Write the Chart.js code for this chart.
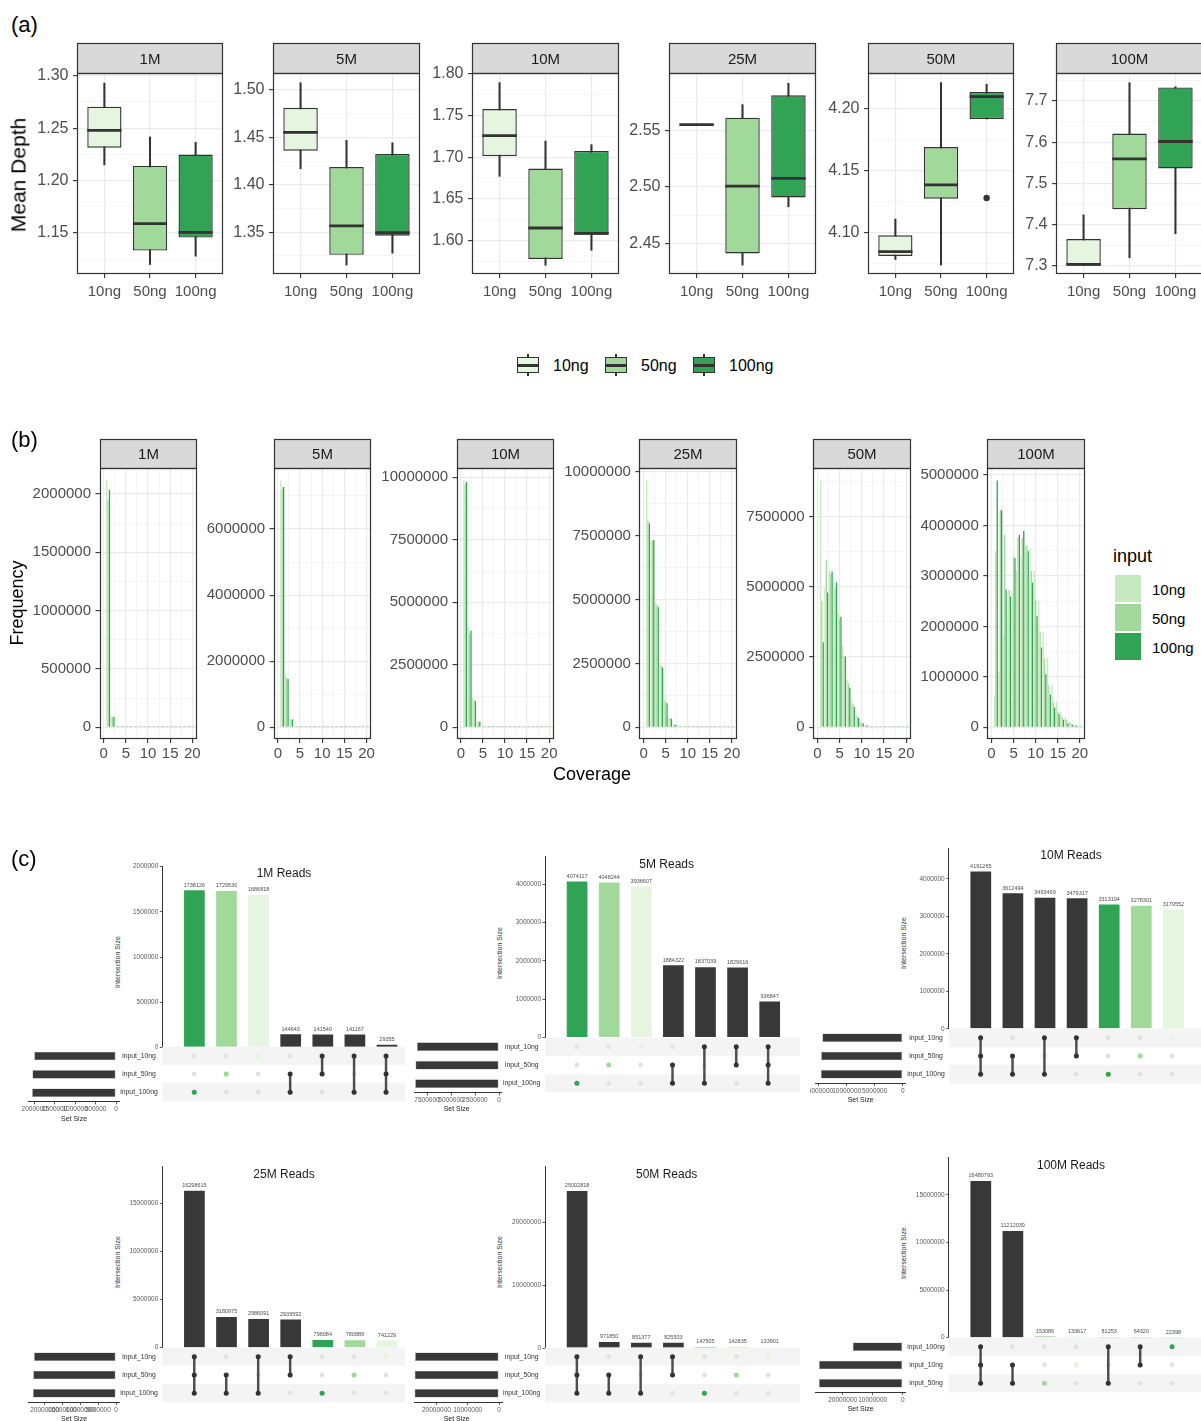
<!DOCTYPE html>
<html>
<head>
<meta charset="utf-8">
<title>Mean depth, coverage and overlap by DNA input</title>
<script src="https://cdn.jsdelivr.net/npm/chart.js@4.4.1/dist/chart.umd.min.js"></script>
<style>
html,body{margin:0;padding:0;background:#fff;}
body{position:relative;width:1201px;height:1421px;overflow:hidden;font-family:"Liberation Sans",Arial,Helvetica,sans-serif;}
.t{position:absolute;white-space:nowrap;line-height:1;}
.k{position:absolute;box-sizing:border-box;}
</style>
</head>
<body>
<script>
// ---------------- data ----------------
const inputs = ['10ng', '50ng', '100ng'];
const readDepths = ['1M', '5M', '10M', '25M', '50M', '100M'];

// (a) mean depth: [lower whisker, Q1, median, Q3, upper whisker] for 10ng, 50ng, 100ng
const depth1M   = [[1.215, 1.2314, 1.248, 1.2705, 1.293], [1.120, 1.1333, 1.159, 1.214, 1.2416], [1.128, 1.1457, 1.1506, 1.2248, 1.2366]];
const depth5M   = [[1.417, 1.436, 1.4554, 1.4813, 1.5077], [1.3155, 1.3262, 1.3567, 1.4188, 1.447], [1.328, 1.3464, 1.3495, 1.4325, 1.4444]];
const depth10M  = [[1.677, 1.7012, 1.726, 1.7578, 1.7896], [1.570, 1.5776, 1.6148, 1.6863, 1.7193], [1.588, 1.6068, 1.6084, 1.7074, 1.715]];
const depth25M  = [[2.555, 2.555, 2.555, 2.555, 2.555], [2.4307, 2.441, 2.5006, 2.5612, 2.5727], [2.4823, 2.4906, 2.5074, 2.581, 2.5916]];
const depth50M  = [[4.078, 4.0808, 4.0843, 4.0976, 4.1108], [4.0735, 4.1273, 4.1384, 4.1692, 4.2214], [4.1919, 4.1919, 4.21, 4.2138, 4.22]];
const depth100M = [[7.300, 7.300, 7.3034, 7.3646, 7.4235], [7.3194, 7.4374, 7.5597, 7.6211, 7.7444], [7.3777, 7.5362, 7.6017, 7.733, 7.7345]];
const outlierFacet = ['50M'];
const outlierInput = ['100ng'];
const outlierDepth = [4.1278];

const depthTicks1M   = [1.15, 1.20, 1.25, 1.30];
const depthTicks5M   = [1.35, 1.40, 1.45, 1.50];
const depthTicks10M  = [1.60, 1.65, 1.70, 1.75, 1.80];
const depthTicks25M  = [2.45, 2.50, 2.55];
const depthTicks50M  = [4.10, 4.15, 4.20];
const depthTicks100M = [7.3, 7.4, 7.5, 7.6, 7.7];
const depthLimits = [[1.111, 1.3026], [1.306, 1.518], [1.5595, 1.8012], [2.4228, 2.6007], [4.0662, 4.2292], [7.2799, 7.768]];

// (b) coverage histograms (frequency of positions at each coverage)
const coverage = [1, 2, 3, 4, 5, 6, 7, 8, 9, 10, 11, 12, 13, 14, 15, 16, 17, 18, 19, 20];
const coverageTicks = [0, 5, 10, 15, 20];
const freq1M_10ng   = [2117000, 96000, 9000, 1500, 400, 200, 120, 80, 60, 50, 40, 35, 30, 25, 22, 20, 18, 16, 15, 14];
const freq1M_50ng   = [1945000, 91000, 8500, 1400, 380, 190, 110, 75, 55, 45, 38, 32, 28, 24, 21, 19, 17, 15, 14, 13];
const freq1M_100ng  = [2035000, 88000, 8200, 1300, 360, 180, 105, 70, 52, 44, 36, 30, 27, 23, 20, 18, 16, 15, 13, 12];
const freq5M_10ng   = [7470000, 1580000, 250000, 35000, 5000, 1200, 500, 300, 200, 150, 120, 100, 90, 80, 70, 60, 55, 50, 45, 40];
const freq5M_50ng   = [7210000, 1500000, 225000, 31000, 4500, 1100, 450, 280, 190, 140, 110, 95, 85, 75, 65, 58, 52, 48, 43, 38];
const freq5M_100ng  = [7270000, 1460000, 240000, 33000, 4800, 1150, 470, 290, 195, 145, 115, 98, 88, 78, 68, 60, 54, 49, 44, 39];
const freq10M_10ng  = [9880000, 4020000, 1180000, 235000, 36000, 6000, 1500, 600, 350, 250, 200, 170, 150, 130, 115, 100, 90, 80, 72, 65];
const freq10M_50ng  = [9720000, 3750000, 1080000, 210000, 32000, 5500, 1400, 560, 330, 240, 190, 160, 140, 125, 110, 95, 85, 76, 68, 62];
const freq10M_100ng = [9810000, 3860000, 1050000, 220000, 34000, 5700, 1450, 580, 340, 245, 195, 165, 145, 128, 112, 98, 88, 78, 70, 63];
const freq25M_10ng  = [9660000, 7330000, 4910000, 2500000, 1070000, 380000, 120000, 35000, 10000, 3000, 1200, 600, 400, 300, 250, 200, 180, 160, 140, 120];
const freq25M_50ng  = [8080000, 7300000, 4800000, 2420000, 1000000, 350000, 110000, 32000, 9000, 2800, 1100, 560, 380, 290, 240, 190, 170, 150, 130, 115];
const freq25M_100ng = [7980000, 7330000, 4710000, 2340000, 940000, 330000, 100000, 30000, 8500, 2600, 1050, 540, 370, 280, 230, 185, 165, 145, 125, 110];
const freq50M_10ng  = [8790000, 4950000, 5570000, 5190000, 4100000, 2900000, 1700000, 950000, 460000, 200000, 85000, 35000, 14000, 5500, 2300, 1100, 650, 420, 300, 230];
const freq50M_50ng  = [4500000, 5960000, 5450000, 4950000, 3850000, 2520000, 1570000, 820000, 380000, 165000, 70000, 29000, 12000, 4800, 2000, 1000, 600, 400, 280, 220];
const freq50M_100ng = [3030000, 4800000, 5550000, 5160000, 3940000, 2520000, 1410000, 720000, 330000, 140000, 60000, 25000, 10000, 4200, 1800, 900, 560, 380, 270, 210];
const freq100M_10ng  = [640000, 1100000, 1860000, 2200000, 2700000, 3100000, 3400000, 3600000, 3550000, 3100000, 2500000, 1900000, 1370000, 840000, 500000, 310000, 210000, 110000, 60000, 30000];
const freq100M_50ng  = [3490000, 4300000, 3810000, 2720000, 3390000, 3760000, 3750000, 3610000, 3100000, 2520000, 1900000, 1370000, 840000, 500000, 310000, 210000, 150000, 80000, 50000, 30000];
const freq100M_100ng = [4890000, 4300000, 2730000, 2590000, 3350000, 3810000, 3890000, 3490000, 2870000, 2200000, 1580000, 1050000, 650000, 390000, 260000, 150000, 80000, 50000, 30000, 20000];

const freqTicks1M   = [0, 500000, 1000000, 1500000, 2000000];
const freqTicks5M   = [0, 2000000, 4000000, 6000000];
const freqTicks10M  = [0, 2500000, 5000000, 7500000, 10000000];
const freqTicks25M  = [0, 2500000, 5000000, 7500000, 10000000];
const freqTicks50M  = [0, 2500000, 5000000, 7500000];
const freqTicks100M = [0, 1000000, 2000000, 3000000, 4000000, 5000000];
const freqLimits = [[-100300, 2223000], [-354000, 7846000], [-468000, 10372000], [-458000, 10145000], [-417000, 9234000], [-232000, 5139000]];

// (c) intersections of covered positions between inputs
const upsetTitles = ['1M Reads', '5M Reads', '10M Reads', '25M Reads', '50M Reads', '100M Reads'];
const setRows1M   = ['input_10ng', 'input_50ng', 'input_100ng'];
const setRows100M = ['input_100ng', 'input_10ng', 'input_50ng'];
const members1M   = [['100ng'], ['50ng'], ['10ng'], ['50ng', '100ng'], ['10ng', '50ng'], ['10ng', '100ng'], ['10ng', '50ng', '100ng']];
const members5M   = [['100ng'], ['50ng'], ['10ng'], ['50ng', '100ng'], ['10ng', '100ng'], ['10ng', '50ng'], ['10ng', '50ng', '100ng']];
const membersDeep = [['10ng', '50ng', '100ng'], ['50ng', '100ng'], ['10ng', '100ng'], ['10ng', '50ng'], ['100ng'], ['50ng'], ['10ng']];
const members100M = [['10ng', '50ng', '100ng'], ['10ng', '50ng'], ['50ng'], ['10ng'], ['50ng', '100ng'], ['10ng', '100ng'], ['100ng']];
const overlap1M   = [1738126, 1729530, 1686818, 144643, 141540, 141167, 29355];
const overlap5M   = [4074117, 4048244, 3936607, 1884322, 1837039, 1829616, 936847];
const overlap10M  = [4191265, 3612494, 3493469, 3479317, 3313194, 3278301, 3179552];
const overlap25M  = [16298615, 3180975, 2986091, 2939592, 796084, 780889, 741229];
const overlap50M  = [25002818, 971850, 851377, 825503, 147505, 142835, 133901];
const overlap100M = [16480793, 11212039, 153086, 133617, 81253, 64320, 22398];
const overlapTicks1M   = [0, 500000, 1000000, 1500000, 2000000];
const overlapTicks5M   = [0, 1000000, 2000000, 3000000, 4000000];
const overlapTicks10M  = [0, 1000000, 2000000, 3000000, 4000000];
const overlapTicks25M  = [0, 5000000, 10000000, 15000000];
const overlapTicks50M  = [0, 10000000, 20000000];
const overlapTicks100M = [0, 5000000, 10000000, 15000000];
const setSizeTicks1M   = [0, 500000, 1000000, 1500000, 2000000];
const setSizeTicks5M   = [0, 2500000, 5000000, 7500000];
const setSizeTicks10M  = [0, 5000000, 10000000, 15000000];
const setSizeTicks25M  = [0, 5000000, 10000000, 15000000, 20000000];
const setSizeTicks50M  = [0, 10000000, 20000000];
const setSizeTicks100M = [0, 10000000, 20000000];

// ---------------- styling ----------------
const FONT = '"Liberation Sans", Arial, Helvetica, sans-serif';
Chart.defaults.font.family = FONT;
Chart.defaults.color = '#4D4D4D';
Chart.defaults.animation = false;
Chart.defaults.responsive = false;
Chart.defaults.maintainAspectRatio = false;
Chart.defaults.devicePixelRatio = 1;
Chart.defaults.events = [];
Chart.defaults.plugins.legend.display = false;
Chart.defaults.plugins.tooltip.enabled = false;

const depthColors = ['#E5F5E0', '#A1D99B', '#31A354'];
const histColors = ['#C7E9C0', '#A1D99B', '#31A354'];
const setColors = {'10ng': '#E5F5E0', '50ng': '#A1D99B', '100ng': '#31A354'};
const DARK = '#383838';

// ---------------- helpers ----------------
function addText(str, x, y, size, o = {}) {
  const d = document.createElement('div');
  d.className = 't';
  d.textContent = str;
  d.style.left = x + 'px';
  d.style.top = y + 'px';
  d.style.fontSize = size + 'px';
  d.style.color = o.color || '#000';
  d.style.transform = 'translate(' + (o.align === 'left' ? '0' : '-50%') + ',-50%)' + (o.rotate ? ' rotate(-90deg)' : '');
  document.body.appendChild(d);
  return d;
}

function addBlock(x, y, w, h, css) {
  const d = document.createElement('div');
  d.className = 'k';
  d.style.cssText += `left:${x}px;top:${y}px;width:${w}px;height:${h}px;` + css;
  document.body.appendChild(d);
  return d;
}

// canvas whose chart area lands on `area` (page pixels), with margins for axes
function frame(area, m, clip) {
  const cx = Math.floor(area.l - m.l), cy = Math.floor(area.t - m.t);
  const cw = Math.ceil(area.r + m.r) - cx, ch = Math.ceil(area.b + m.b) - cy;
  const cl = clip && clip.l != null ? Math.max(cx, clip.l) : cx;
  const cr = clip && clip.r != null ? Math.min(cx + cw, clip.r) : cx + cw;
  const wrap = document.createElement('div');
  wrap.style.cssText = `position:absolute;left:${cl}px;top:${cy}px;width:${cr - cl}px;height:${ch}px;overflow:hidden;`;
  const cv = document.createElement('canvas');
  cv.width = cw; cv.height = ch;
  cv.style.cssText = `position:absolute;left:${cx - cl}px;top:0;width:${cw}px;height:${ch}px;`;
  wrap.appendChild(cv);
  document.body.appendChild(wrap);
  return {cv, ml: area.l - cx, mt: area.t - cy, mr: cx + cw - area.r, mb: cy + ch - area.b};
}

// major ticks plus the half-way minor ticks inside [lo, hi]
function withMinor(major, lo, hi) {
  const step = major[1] - major[0];
  const ext = [major[0] - step, ...major, major[major.length - 1] + step];
  const out = major.map(v => ({value: v}));
  for (let i = 0; i < ext.length - 1; i++) out.push({value: (ext[i] + ext[i + 1]) / 2, minor: true});
  return out.filter(t => t.value >= lo && t.value <= hi).sort((a, b) => a.value - b.value);
}
const isMinor = c => !!(c.tick && c.tick.minor);
const gridColor = c => isMinor(c) ? '#F1F1F1' : '#EBEBEB';
const gridWidth = c => isMinor(c) ? 0.7 : 1.2;
const tickColor = c => isMinor(c) ? 'rgba(0,0,0,0)' : '#333333';

// facet panel border and grey strip with the facet label
function facetFrame(label, stripH, fontSize) {
  return {
    id: 'facetFrame',
    afterDraw(chart) {
      const {ctx, chartArea: a} = chart;
      const L = Math.round(a.left) + 0.5, R = Math.round(a.right) - 0.5;
      const T = Math.round(a.top) + 0.5, B = Math.round(a.bottom) - 0.5;
      const sT = Math.round(a.top - stripH) + 0.5;
      ctx.save();
      ctx.fillStyle = '#D9D9D9';
      ctx.fillRect(L, sT, R - L, T - sT);
      ctx.lineWidth = 1.2;
      ctx.strokeStyle = '#333333';
      ctx.strokeRect(L, sT, R - L, T - sT);
      ctx.strokeRect(L, T, R - L, B - T);
      ctx.fillStyle = '#1A1A1A';
      ctx.font = fontSize + 'px ' + FONT;
      ctx.textAlign = 'center';
      ctx.textBaseline = 'middle';
      ctx.fillText(label, (L + R) / 2, (sT + T) / 2 + 1);
      ctx.restore();
    }
  };
}

// median bar across each box
function medianLines(medians, dsIndex) {
  return {
    id: 'medianLines',
    afterDatasetsDraw(chart) {
      const meta = chart.getDatasetMeta(dsIndex);
      const y = chart.scales.y, ctx = chart.ctx;
      ctx.save();
      ctx.strokeStyle = '#333333';
      ctx.lineWidth = 2.8;
      meta.data.forEach((el, i) => {
        const py = y.getPixelForValue(medians[i]);
        ctx.beginPath();
        ctx.moveTo(el.x - el.width / 2, py);
        ctx.lineTo(el.x + el.width / 2, py);
        ctx.stroke();
      });
      ctx.restore();
    }
  };
}

// ---------------- (a) mean depth box plots ----------------
const depthStats = [depth1M, depth5M, depth10M, depth25M, depth50M, depth100M];
const depthTicks = [depthTicks1M, depthTicks5M, depthTicks10M, depthTicks25M, depthTicks50M, depthTicks100M];
const aLeft = [77, 273, 472, 669, 868, 1056];
const aRight = [223, 420, 619, 816, 1014, 1203];

depthStats.forEach((stats, fi) => {
  const f = frame({l: aLeft[fi], r: aRight[fi], t: 73, b: 274}, {l: 62, t: 33, r: 12, b: 30});
  const [lo, hi] = depthLimits[fi];
  const yt = withMinor(depthTicks[fi], lo, hi);
  const dec = readDepths[fi] === '100M' ? 1 : 2;
  const datasets = [
    {data: stats.map((s, k) => ({x: k + 1, y: [s[0], s[4]]})), backgroundColor: '#333333',
     grouped: false, maxBarThickness: 1.4, barPercentage: 1, categoryPercentage: 1, order: 3},
    {data: stats.map((s, k) => ({x: k + 1, y: [s[1], s[3]]})), backgroundColor: depthColors,
     borderColor: '#333333', borderWidth: 1.4, borderSkipped: false, grouped: false,
     barPercentage: 0.75, categoryPercentage: 1, order: 2}
  ];
  outlierFacet.forEach((fc, j) => {
    if (fc === readDepths[fi]) {
      datasets.push({type: 'scatter', data: [{x: inputs.indexOf(outlierInput[j]) + 1, y: outlierDepth[j]}],
        pointRadius: 3.2, pointBackgroundColor: '#333333', pointBorderWidth: 0, order: 1});
    }
  });
  new Chart(f.cv, {
    type: 'bar',
    data: {datasets},
    options: {
      layout: {padding: {left: 0, right: f.mr, top: f.mt, bottom: 0}},
      scales: {
        x: {type: 'linear', min: 0.4, max: 3.6, offset: false,
            afterBuildTicks: s => { s.ticks = [1, 2, 3].map(v => ({value: v})); },
            afterFit: s => { s.height = f.mb; },
            ticks: {callback: v => inputs[v - 1], font: {size: 15}, color: '#4D4D4D', padding: 4.5, maxRotation: 0, autoSkip: false},
            grid: {offset: false, color: '#EBEBEB', lineWidth: 1.2, tickLength: 4, tickColor: '#333333', tickWidth: 1.1},
            border: {display: false}},
        y: {type: 'linear', min: lo, max: hi,
            afterBuildTicks: s => { s.ticks = yt.map(t => ({...t})); },
            afterFit: s => { s.width = f.ml; },
            ticks: {callback: (v, i, t) => t[i].minor ? '' : v.toFixed(dec), font: {size: 16}, color: '#4D4D4D', padding: 4.5, autoSkip: false},
            grid: {color: gridColor, lineWidth: gridWidth, tickLength: 4, tickColor: tickColor, tickWidth: 1.1},
            border: {display: false}}
      }
    },
    plugins: [medianLines(stats.map(s => s[2]), 1), facetFrame(readDepths[fi], 30, 15)]
  });
});

addText('(a)', 11, 25, 22, {align: 'left'});
addText('Mean Depth', 18, 175, 21, {rotate: true});
// legend of panel (a): box-plot keys
[516, 604, 692].forEach((x, k) => {
  addBlock(x + 11.4, 354, 1.3, 22, 'background:#333;');
  addBlock(x + 1, 357, 22, 16, `background:${depthColors[k]};border:1.3px solid #333;`);
  addBlock(x + 1, 364, 22, 2.6, 'background:#333;');
  addText(inputs[k], x + 37, 365.5, 16, {align: 'left', color: '#000'});
});

// ---------------- (b) coverage histograms ----------------
const freqSeries = [
  [freq1M_10ng, freq1M_50ng, freq1M_100ng],
  [freq5M_10ng, freq5M_50ng, freq5M_100ng],
  [freq10M_10ng, freq10M_50ng, freq10M_100ng],
  [freq25M_10ng, freq25M_50ng, freq25M_100ng],
  [freq50M_10ng, freq50M_50ng, freq50M_100ng],
  [freq100M_10ng, freq100M_50ng, freq100M_100ng]
];
const freqTicks = [freqTicks1M, freqTicks5M, freqTicks10M, freqTicks25M, freqTicks50M, freqTicks100M];
const bLeft = [99.5, 273.6, 456.6, 639.4, 813.2, 987.3];
const bRight = [197, 371.2, 553.8, 736.6, 910.8, 1084.5];
const covMin = -0.95, covMax = 21.05;
const xt = withMinor(coverageTicks, covMin, covMax);

freqSeries.forEach((series, fi) => {
  const f = frame({l: bLeft[fi], r: bRight[fi], t: 468, b: 739}, {l: 86, t: 32, r: 12, b: 26});
  const [lo, hi] = freqLimits[fi];
  const yt = withMinor(freqTicks[fi], lo, hi);
  new Chart(f.cv, {
    type: 'bar',
    data: {datasets: inputs.map((name, k) => ({
      label: name,
      data: coverage.map((c, j) => ({x: c, y: series[k][j]})),
      backgroundColor: histColors[k], borderWidth: 0,
      categoryPercentage: 0.9, barPercentage: 1, minBarLength: 1.1
    }))},
    options: {
      layout: {padding: {left: 0, right: f.mr, top: f.mt, bottom: 0}},
      scales: {
        x: {type: 'linear', min: covMin, max: covMax, offset: false,
            afterBuildTicks: s => { s.ticks = xt.map(t => ({...t})); },
            afterFit: s => { s.height = f.mb; },
            ticks: {callback: (v, i, t) => t[i].minor ? '' : String(v), font: {size: 15}, color: '#4D4D4D', padding: 2, maxRotation: 0, autoSkip: false},
            grid: {offset: false, color: gridColor, lineWidth: gridWidth, tickLength: 4, tickColor: tickColor, tickWidth: 1.1},
            border: {display: false}},
        y: {type: 'linear', min: lo, max: hi,
            afterBuildTicks: s => { s.ticks = yt.map(t => ({...t})); },
            afterFit: s => { s.width = f.ml; },
            ticks: {callback: (v, i, t) => t[i].minor ? '' : String(v), font: {size: 15}, color: '#4D4D4D', padding: 4.5, autoSkip: false},
            grid: {color: gridColor, lineWidth: gridWidth, tickLength: 4, tickColor: tickColor, tickWidth: 1.1},
            border: {display: false}}
      }
    },
    plugins: [facetFrame(readDepths[fi], 29, 15)]
  });
});

addText('(b)', 11, 440, 22, {align: 'left'});
addText('Frequency', 17, 603, 18, {rotate: true});
addText('Coverage', 592, 774, 18);
addText('input', 1113, 556, 18, {align: 'left'});
[575, 604, 633].forEach((y, k) => {
  addBlock(1115, y, 26, 27, `background:${histColors[k]};`);
  addText(inputs[k], 1152, y + 13.5, 15, {align: 'left'});
});

// ---------------- (c) UpSet plots ----------------
const upsetRows = [setRows1M, setRows1M, setRows1M, setRows1M, setRows1M, setRows100M];
const upsetMembers = [members1M, members5M, membersDeep, membersDeep, membersDeep, members100M];
const upsetSizes = [overlap1M, overlap5M, overlap10M, overlap25M, overlap50M, overlap100M];
const upsetTicks = [overlapTicks1M, overlapTicks5M, overlapTicks10M, overlapTicks25M, overlapTicks50M, overlapTicks100M];
const upsetSetTicks = [setSizeTicks1M, setSizeTicks5M, setSizeTicks10M, setSizeTicks25M, setSizeTicks50M, setSizeTicks100M];
const upsetYMax = [2000000, 4720000, 4813000, 18800000, 28850000, 18960000];

const upsetLayout = [
  {axisX: 162.3, top: 866.7, zero: 1047.3, rowY: 1056, rowStep: 18.35, clipR: 405, ssL: 28, ssR: 119.3, ssZero: 116, ssPx: 4.0873e-5, ssClipL: null, nameX: 139, titleX: 284, titleY: 873.3, isX: 116.7, isY: 961.7, sslX: 74, sslY: 1118.3},
  {axisX: 545, top: 856.7, zero: 1037.5, rowY: 1046.7, rowStep: 18.5, clipR: null, ssL: 414, ssR: 501.7, ssZero: 499, ssPx: 9.6e-6, ssClipL: null, nameX: 521.7, titleX: 666.7, titleY: 864, isX: 499, isY: 953, sslX: 456.7, sslY: 1108.3},
  {axisX: 948.7, top: 848.3, zero: 1028.8, rowY: 1037.7, rowStep: 18.3, clipR: null, ssL: 815, ssR: 905, ssZero: 902.7, ssPx: 5.6e-6, ssClipL: 810, nameX: 926, titleX: 1071, titleY: 855, isX: 903.3, isY: 943.3, sslX: 860.7, sslY: 1099},
  {axisX: 162.3, top: 1166.7, zero: 1347.7, rowY: 1356.7, rowStep: 18.3, clipR: 405, ssL: 28, ssR: 119, ssZero: 116, ssPx: 3.568e-6, ssClipL: null, nameX: 139, titleX: 284, titleY: 1174, isX: 116.7, isY: 1262.3, sslX: 74, sslY: 1418.3},
  {axisX: 545, top: 1166.7, zero: 1348, rowY: 1356.7, rowStep: 18.3, clipR: null, ssL: 414, ssR: 502, ssZero: 499, ssPx: 3.13e-6, ssClipL: null, nameX: 521.7, titleX: 666.7, titleY: 1174, isX: 499, isY: 1262.3, sslX: 456.7, sslY: 1418.3},
  {axisX: 948.7, top: 1157.3, zero: 1337.7, rowY: 1346.7, rowStep: 18.3, clipR: null, ssL: 815, ssR: 905, ssZero: 902.7, ssPx: 3.0e-6, ssClipL: 810, nameX: 926, titleX: 1071, titleY: 1165, isX: 903.3, isY: 1253.3, sslX: 860.7, sslY: 1407.7}
];
const COL_STEP = 32.1;

const barValues = {
  id: 'barValues',
  afterDatasetsDraw(chart) {
    const ctx = chart.ctx, meta = chart.getDatasetMeta(0), ds = chart.data.datasets[0];
    ctx.save();
    ctx.font = '5.5px ' + FONT;
    ctx.fillStyle = '#4D4D4D';
    ctx.textAlign = 'center';
    ctx.textBaseline = 'bottom';
    meta.data.forEach((el, i) => ctx.fillText(String(ds.data[i].y), el.x, el.y - 2.5));
    ctx.restore();
  }
};

const rowShading = {
  id: 'rowShading',
  beforeDatasetsDraw(chart) {
    const {ctx, chartArea: a, scales: {y}} = chart;
    ctx.save();
    ctx.fillStyle = '#F4F4F4';
    [0, 2].forEach(r => {
      const y1 = y.getPixelForValue(r - 0.5), y2 = y.getPixelForValue(r + 0.5);
      ctx.fillRect(a.left, Math.min(y1, y2), a.right - a.left, Math.abs(y2 - y1));
    });
    ctx.restore();
  }
};

upsetSizes.forEach((sizes, k) => {
  const Lk = upsetLayout[k];
  const rows = upsetRows[k], members = upsetMembers[k];
  const nCols = sizes.length;
  const right = Lk.axisX + (nCols + 1) * COL_STEP;
  const clip = {l: null, r: Lk.clipR};
  const colTicks = s => { s.ticks = Array.from({length: nCols + 2}, (_, i) => ({value: i})); };

  // intersection size bars
  const fb = frame({l: Lk.axisX, r: right, t: Lk.top, b: Lk.zero}, {l: 34, t: 14, r: 2, b: 6}, clip);
  const yTicks = upsetTicks[k];
  new Chart(fb.cv, {
    type: 'bar',
    data: {datasets: [{
      data: sizes.map((v, i) => ({x: i + 1, y: v})),
      backgroundColor: members.map(m => m.length === 1 ? setColors[m[0]] : DARK),
      borderWidth: 0, barPercentage: 0.645, categoryPercentage: 1
    }]},
    options: {
      layout: {padding: {left: 0, right: fb.mr, top: fb.mt, bottom: fb.mb}},
      scales: {
        x: {type: 'linear', min: 0, max: nCols + 1, offset: false, display: false, afterBuildTicks: colTicks},
        y: {type: 'linear', min: 0, max: upsetYMax[k],
            afterBuildTicks: s => { s.ticks = yTicks.map(v => ({value: v})); },
            afterFit: s => { s.width = fb.ml; },
            ticks: {callback: v => String(v), font: {size: 6.5}, color: '#595959', padding: 1.5, autoSkip: false},
            grid: {drawOnChartArea: false, tickLength: 2.5, tickColor: '#333333', tickWidth: 0.8},
            border: {display: true, color: '#333333', width: 1}}
      }
    },
    plugins: [barValues]
  });

  // membership matrix
  const mTop = Lk.rowY - Lk.rowStep / 2, mBot = Lk.rowY + Lk.rowStep * 2.5;
  const fm = frame({l: Lk.axisX, r: right, t: mTop, b: mBot}, {l: 50, t: 8, r: 2, b: 8}, clip);
  const allDots = [], onDots = [], onColors = [], links = [];
  members.forEach((m, i) => {
    rows.forEach((_, r) => allDots.push({x: i + 1, y: r}));
    const idx = m.map(key => rows.indexOf('input_' + key));
    m.forEach((key, j) => {
      onDots.push({x: i + 1, y: idx[j]});
      onColors.push(m.length === 1 ? setColors[key] : '#333333');
    });
    if (m.length > 1) links.push({x: i + 1, y: [Math.min(...idx), Math.max(...idx)]});
  });
  const nameFont = 6.8;
  const namePad = Math.max(1, Lk.axisX - Lk.nameX - nameFont * 5.5 / 2);
  new Chart(fm.cv, {
    type: 'bar',
    data: {datasets: [
      {type: 'scatter', data: allDots, pointRadius: 2.4, pointBackgroundColor: '#E2E2E2', pointBorderWidth: 0, order: 3},
      {type: 'bar', data: links, backgroundColor: '#4D4D4D', barThickness: 1.8, maxBarThickness: 1.8, order: 2},
      {type: 'scatter', data: onDots, pointRadius: 2.5, pointBackgroundColor: onColors, pointBorderWidth: 0, order: 1}
    ]},
    options: {
      layout: {padding: {left: 0, right: fm.mr, top: fm.mt, bottom: fm.mb}},
      scales: {
        x: {type: 'linear', min: 0, max: nCols + 1, offset: false, display: false, afterBuildTicks: colTicks},
        y: {type: 'linear', min: -0.5, max: 2.5, reverse: true, offset: false,
            afterBuildTicks: s => { s.ticks = [0, 1, 2].map(v => ({value: v})); },
            afterFit: s => { s.width = fm.ml; },
            ticks: {callback: v => rows[v], font: {size: nameFont}, color: '#333333', crossAlign: 'center', padding: namePad, autoSkip: false},
            grid: {display: false, drawTicks: false},
            border: {display: false}}
      }
    },
    plugins: [rowShading]
  });

  // set sizes
  const totals = rows.map(r => {
    const key = r.replace('input_', '');
    return sizes.reduce((acc, v, i) => acc + (members[i].includes(key) ? v : 0), 0);
  });
  const fs = frame({l: Lk.ssL, r: Lk.ssR, t: mTop, b: mBot}, {l: 18, t: 2, r: 5, b: 12}, {l: Lk.ssClipL, r: null});
  const sTicks = upsetSetTicks[k];
  new Chart(fs.cv, {
    type: 'bar',
    data: {datasets: [{
      data: totals.map((v, r) => ({x: v, y: r})),
      backgroundColor: DARK, borderColor: '#A0A0A0', borderWidth: 0.6, borderSkipped: false,
      barPercentage: 0.47, categoryPercentage: 1
    }]},
    options: {
      indexAxis: 'y',
      layout: {padding: {left: fs.ml, right: fs.mr, top: fs.mt, bottom: 0}},
      scales: {
        y: {type: 'linear', min: -0.5, max: 2.5, reverse: true, offset: false, display: false,
            afterBuildTicks: s => { s.ticks = [0, 1, 2].map(v => ({value: v})); }},
        x: {type: 'linear', reverse: true, offset: false,
            min: -(Lk.ssR - Lk.ssZero) / Lk.ssPx, max: (Lk.ssZero - Lk.ssL) / Lk.ssPx,
            afterBuildTicks: s => { s.ticks = sTicks.map(v => ({value: v})); },
            afterFit: s => { s.height = fs.mb; },
            ticks: {callback: v => String(v), font: {size: 6.5}, color: '#595959', padding: 1, autoSkip: false, maxRotation: 0},
            grid: {drawOnChartArea: false, tickLength: 2.5, tickColor: '#333333', tickWidth: 0.8},
            border: {display: true, color: '#333333', width: 1}}
      }
    }
  });

  addText(upsetTitles[k], Lk.titleX, Lk.titleY, 12, {color: '#1A1A1A'});
  addText('Intersection Size', Lk.isX, Lk.isY, 7, {rotate: true, color: '#333'});
  addText('Set Size', Lk.sslX, Lk.sslY, 7, {color: '#222'});
});

addText('(c)', 11, 859, 22, {align: 'left'});
</script>
</body>
</html>
